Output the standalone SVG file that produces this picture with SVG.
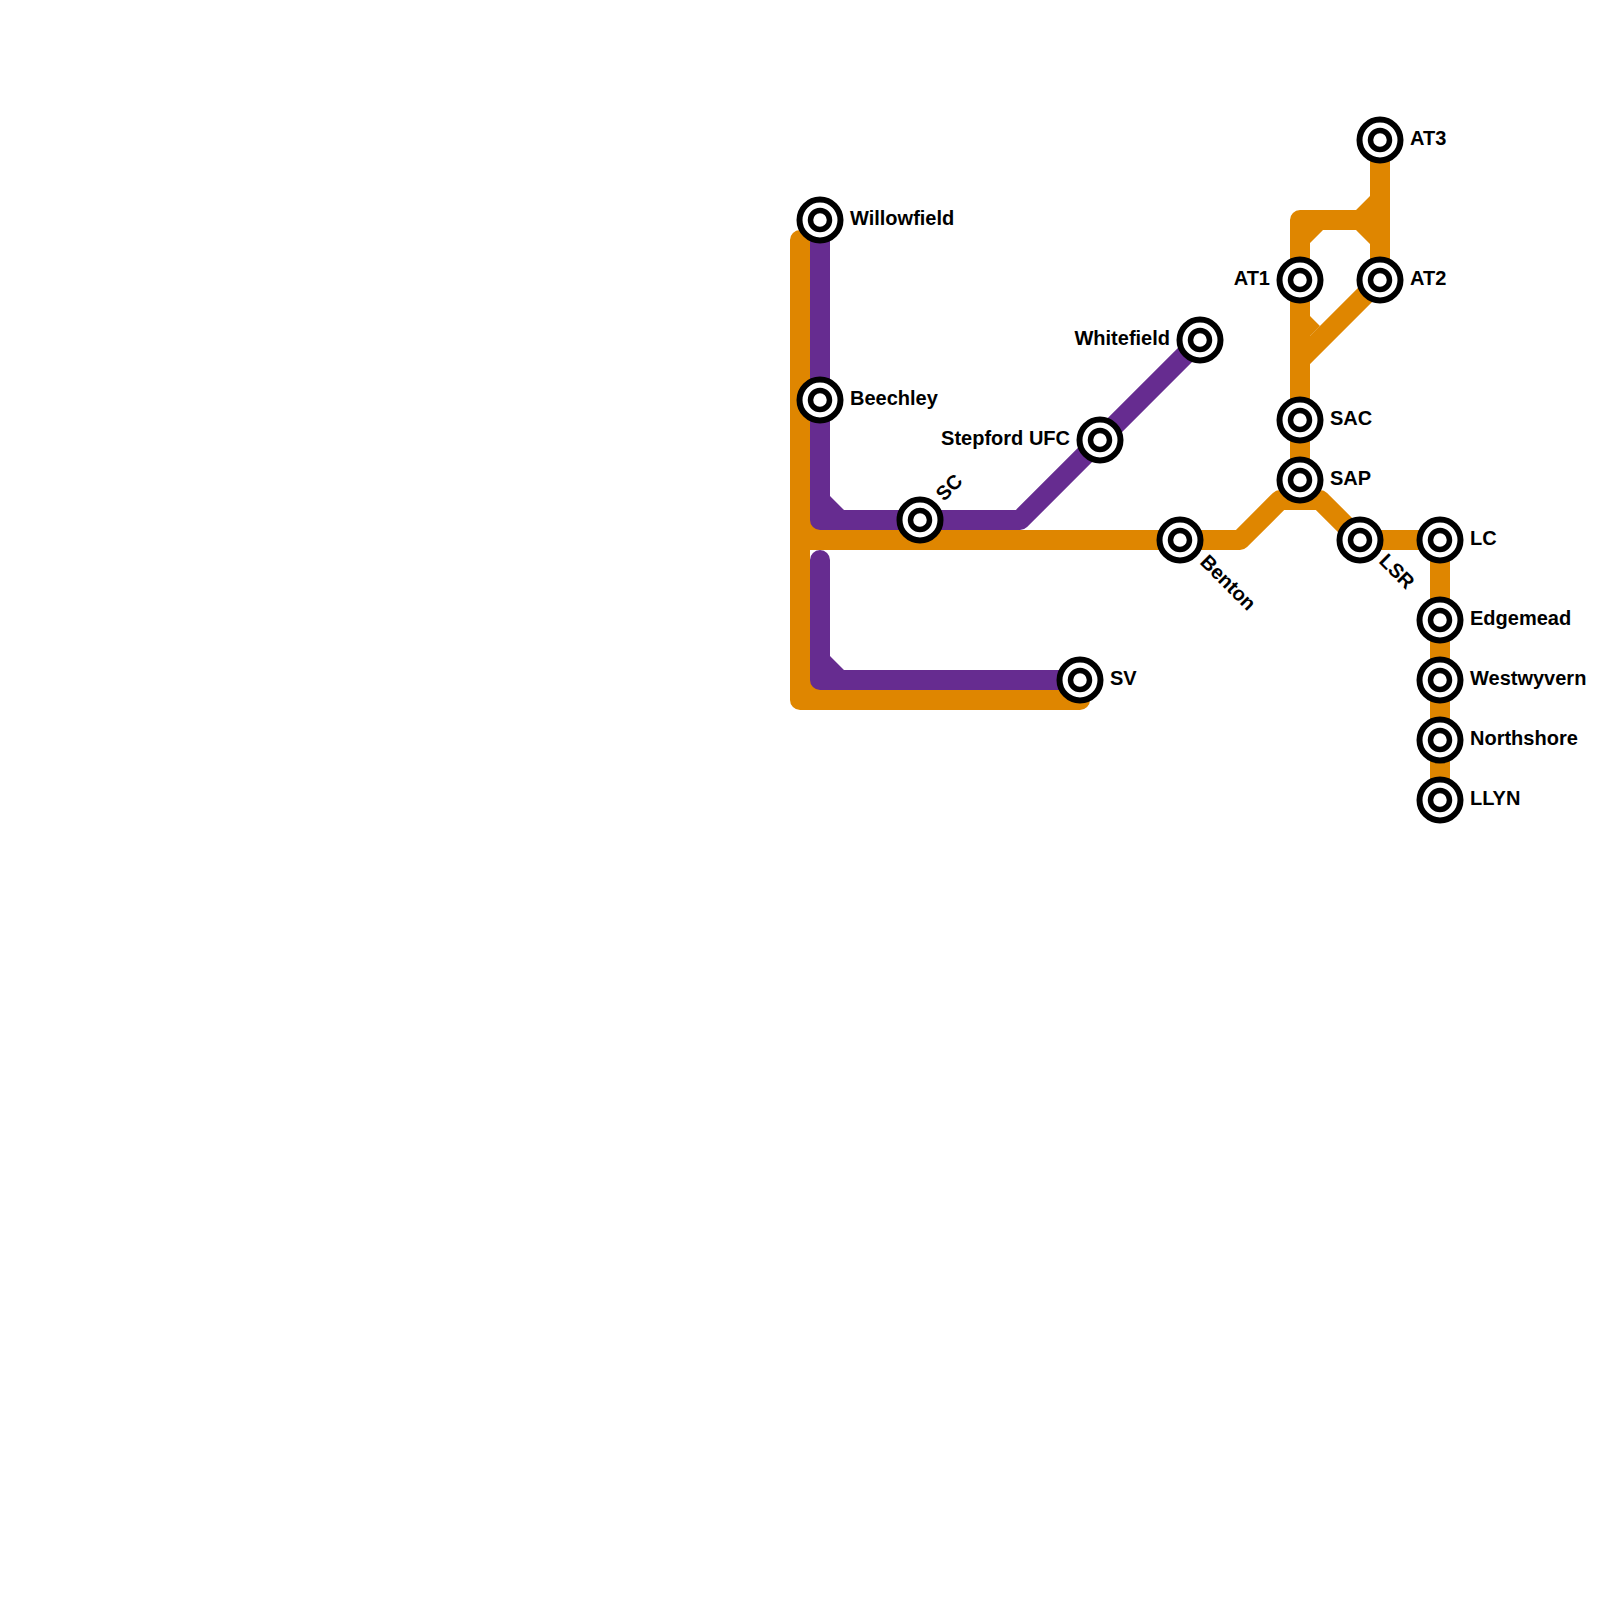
<svg xmlns="http://www.w3.org/2000/svg" width="1600" height="1600" viewBox="0 0 1600 1600">
<style>
.l{fill:none;stroke-width:20;stroke-linecap:round;stroke-linejoin:round}
.o{stroke:#df8600}.p{stroke:#662c90}
.fo{fill:#df8600}.fp{fill:#662c90}
.a{fill:#fff;stroke:#000;stroke-width:6}
.b{fill:#fff;stroke:#000;stroke-width:5.5}
text{font-family:"Liberation Sans",Arial,sans-serif;font-size:20px;font-weight:bold;fill:#000}
.e{text-anchor:end}
</style>
<defs><g id="st"><circle class="a" r="20.5"/><circle class="b" r="9.5"/></g></defs>
<rect width="1600" height="1600" fill="#fff"/>
<g id="connectors">
<path class="l o" d="M800 240V700H1080M800 540H1240L1280 500H1320L1360 540H1440V800"/>
<path class="l o" d="M1300 480V220H1370M1380 140V280L1300 360"/>
<path class="fo" d="M1310 230H1323L1310 243ZM1356 230H1370V244ZM1356 210L1370 196V210ZM1310 316L1320 326L1310 336ZM800 515H825V535H800ZM800 670H825V695H800Z"/>
<path class="l p" d="M820 220V520H1020L1200 340M820 560V680H1080"/>
<path class="fp" d="M830 496L844 510H830ZM830 656L844 670H830Z"/>
</g>
<g id="willowfield"><use href="#st" x="820" y="220"/><text x="850" y="225">Willowfield</text></g>
<g id="beechley"><use href="#st" x="820" y="400"/><text x="850" y="405">Beechley</text></g>
<g id="sc"><use href="#st" x="920" y="520"/><text transform="translate(944 502) rotate(-45)">SC</text></g>
<g id="stepford"><use href="#st" x="1100" y="440"/><text class="e" x="1070" y="445">Stepford UFC</text></g>
<g id="whitefield"><use href="#st" x="1200" y="340"/><text class="e" x="1170" y="345">Whitefield</text></g>
<g id="sv"><use href="#st" x="1080" y="680"/><text x="1110" y="685">SV</text></g>
<g id="benton"><use href="#st" x="1180" y="540"/><text transform="translate(1199 563) rotate(45)">Benton</text></g>
<g id="at1"><use href="#st" x="1300" y="280"/><text class="e" x="1270" y="285">AT1</text></g>
<g id="at2"><use href="#st" x="1380" y="280"/><text x="1410" y="285">AT2</text></g>
<g id="at3"><use href="#st" x="1380" y="140"/><text x="1410" y="145">AT3</text></g>
<g id="sac"><use href="#st" x="1300" y="420"/><text x="1330" y="425">SAC</text></g>
<g id="sap"><use href="#st" x="1300" y="480"/><text x="1330" y="485">SAP</text></g>
<g id="lsr"><use href="#st" x="1360" y="540"/><text transform="translate(1378 562) rotate(45)">LSR</text></g>
<g id="lc"><use href="#st" x="1440" y="540"/><text x="1470" y="545">LC</text></g>
<g id="edgemead"><use href="#st" x="1440" y="620"/><text x="1470" y="625">Edgemead</text></g>
<g id="westwyvern"><use href="#st" x="1440" y="680"/><text x="1470" y="685">Westwyvern</text></g>
<g id="northshore"><use href="#st" x="1440" y="740"/><text x="1470" y="745">Northshore</text></g>
<g id="llyn"><use href="#st" x="1440" y="800"/><text x="1470" y="805">LLYN</text></g>
</svg>
